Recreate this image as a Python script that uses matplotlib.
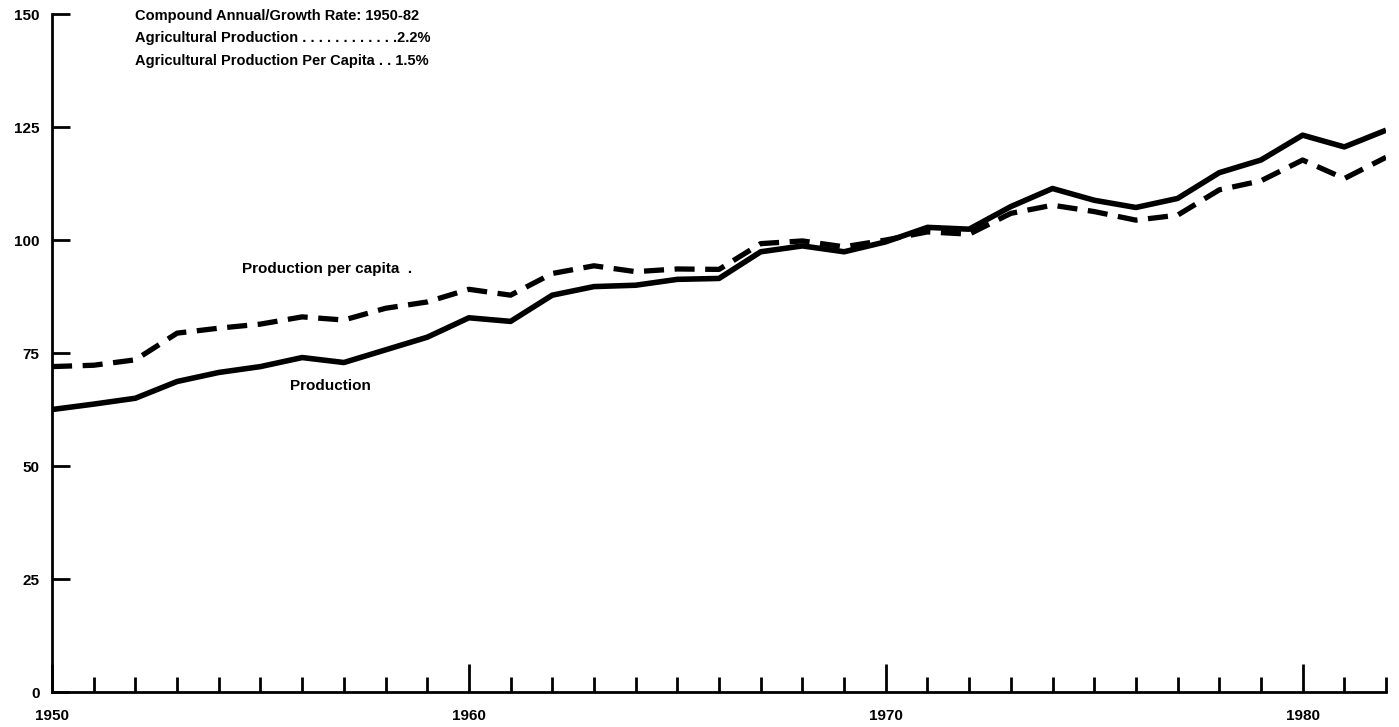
import numpy as np
import matplotlib
matplotlib.use("Agg")
import matplotlib.pyplot as plt

###############################################################################
# Values (index, 1950-82).
###############################################################################
years = list(range(1950, 1983))

production = [62.5, 63.7, 65.0, 68.7, 70.7, 72.0, 74.0, 72.9, 75.7, 78.5,
              82.8, 82.0, 87.8, 89.7, 90.0, 91.3, 91.5, 97.4, 98.7, 97.4,
              99.6, 102.8, 102.4, 107.4, 111.4, 108.8, 107.2, 109.2, 114.9,
              117.7, 123.2, 120.6, 124.3]

per_capita = [72.0, 72.3, 73.5, 79.4, 80.5, 81.4, 83.0, 82.3, 84.9, 86.3,
              89.1, 87.8, 92.6, 94.3, 93.0, 93.6, 93.5, 99.2, 99.8, 98.5,
              100.0, 101.8, 101.3, 105.9, 107.7, 106.3, 104.4, 105.5, 111.1,
              113.1, 117.7, 113.6, 118.3]

y_ticks = [0, 25, 50, 75, 100, 125, 150]
x_major = [1950, 1960, 1970, 1980]

note_lines = ["Compound Annual/Growth Rate: 1950-82",
              "Agricultural Production . . . . . . . . . . . .2.2%",
              "Agricultural Production Per Capita . . 1.5%"]

###############################################################################
# Figure
###############################################################################
plt.rcParams["font.family"] = ["Liberation Sans", "DejaVu Sans"]

fig = plt.figure(figsize=(13.99, 7.27), dpi=100)
ax = fig.add_axes([0.0372, 0.0481, 0.9535, 0.9326])

ax.plot(years, production, color="black", lw=4.0, solid_capstyle="butt")
ax.plot(years, per_capita, color="black", lw=3.8, dashes=(3.8, 2.0),
        dash_capstyle="butt")

ax.set_xlim(1950, 1982)
ax.set_ylim(0, 150)

ax.spines["top"].set_visible(False)
ax.spines["right"].set_visible(False)
ax.spines["left"].set_linewidth(2)
ax.spines["bottom"].set_linewidth(2)

ax.set_yticks(y_ticks)
ax.set_yticklabels([str(v) for v in y_ticks], fontsize=11, fontweight="bold")
ax.set_xticks(x_major)
ax.set_xticklabels([str(v) for v in x_major], fontsize=11,
                   fontweight="bold")
ax.set_xticks(years, minor=True)

ax.tick_params(axis="y", direction="in", length=13, width=2, pad=9)
ax.tick_params(axis="x", which="major", direction="in", length=20, width=2,
               pad=12)
ax.tick_params(axis="x", which="minor", direction="in", length=11, width=2)

# growth-rate note in the top left corner
for i, line in enumerate(note_lines):
    ax.text(1951.98, 149.6 - i * 4.95, line, fontsize=10.5,
            fontweight="bold", va="center", ha="left")

# series labels
ax.text(1954.55, 93.6, "Production per capita  .", fontsize=11,
        fontweight="bold", va="center", ha="left")
ax.text(1955.7, 67.6, "Production", fontsize=11, fontweight="bold",
        va="center", ha="left")

fig.savefig("out.png", dpi=100)
